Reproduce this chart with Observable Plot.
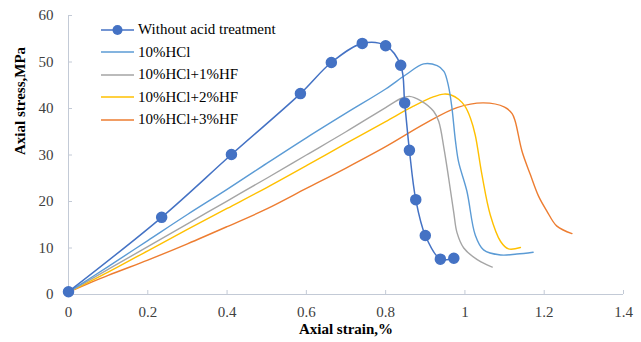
<!DOCTYPE html>
<html>
<head>
<meta charset="utf-8">
<script src="https://cdn.jsdelivr.net/npm/d3@7"></script>
<script src="https://cdn.jsdelivr.net/npm/@observablehq/plot@0.6"></script>
<style>
  html, body { margin: 0; padding: 0; background: #fff; }
  #wrap { position: relative; width: 641px; height: 342px; }
  #wrap svg text { font-family: "Liberation Serif", "Times New Roman", "DejaVu Serif", serif; }
  #legend { position: absolute; left: 101px; top: 18.5px; font-family: "Liberation Serif", "Times New Roman", "DejaVu Serif", serif; font-size: 15px; color: #000; }
  #legend .row { display: flex; align-items: center; height: 22.5px; }
  #legend svg { display: block; margin-right: 4px; }
</style>
</head>
<body>
<div id="wrap"><div id="legend"></div></div>
<script>
// ---- data ----
const seriesNames = ["Without acid treatment", "10%HCl", "10%HCl+1%HF", "10%HCl+2%HF", "10%HCl+3%HF"];
const seriesColors = ["#4472C4", "#5B9BD5", "#A5A5A5", "#FFC000", "#ED7D31"];

const noAcidStrain = [0, 0.235, 0.411, 0.585, 0.663, 0.741, 0.800, 0.838, 0.848, 0.860, 0.876, 0.900, 0.938, 0.972];
const noAcidStress = [0.6, 16.6, 30.1, 43.2, 49.9, 54.0, 53.5, 49.3, 41.2, 31.0, 20.4, 12.7, 7.6, 7.8];

const hclStrain = [0, 0.1, 0.2, 0.3, 0.4, 0.5, 0.6, 0.7, 0.8, 0.85, 0.896, 0.93, 0.947, 0.959, 0.967, 0.976, 0.984, 1.005, 1.026, 1.047, 1.090, 1.131, 1.172];
const hclStress = [0.5, 6.0, 11.6, 17.2, 22.6, 28.2, 33.7, 39.0, 44.2, 47.2, 49.6, 49.2, 48.0, 44.6, 40.3, 33.1, 28.5, 22.2, 12.8, 9.6, 8.5, 8.7, 9.1];

const hf1Strain = [0, 0.1, 0.2, 0.3, 0.4, 0.5, 0.6, 0.7, 0.8, 0.84, 0.86, 0.888, 0.921, 0.934, 0.947, 0.959, 0.972, 0.980, 0.997, 1.031, 1.069];
const hf1Stress = [0.5, 5.4, 10.3, 15.2, 20.1, 25.0, 30.0, 35.0, 40.2, 42.2, 42.6, 41.7, 39.4, 37.2, 31.5, 25.0, 17.5, 13.3, 10.0, 7.5, 5.9];

const hf2Strain = [0, 0.1, 0.2, 0.3, 0.4, 0.5, 0.6, 0.7, 0.8, 0.87, 0.92, 0.947, 0.965, 0.984, 1.000, 1.014, 1.026, 1.043, 1.064, 1.090, 1.110, 1.140];
const hf2Stress = [0.5, 4.8, 9.4, 14.0, 18.5, 23.0, 27.7, 32.5, 37.2, 40.5, 42.5, 43.1, 42.9, 42.0, 40.5, 37.9, 34.3, 25.7, 17.1, 11.4, 9.8, 10.1];

const hf3Strain = [0, 0.1, 0.2, 0.3, 0.4, 0.5, 0.6, 0.7, 0.8, 0.9, 0.98, 1.047, 1.100, 1.119, 1.127, 1.144, 1.165, 1.186, 1.207, 1.232, 1.27];
const hf3Stress = [0.5, 4.1, 7.4, 10.9, 14.6, 18.4, 22.8, 27.2, 31.8, 36.8, 40.2, 41.2, 40.3, 38.9, 37.2, 30.8, 25.8, 21.1, 17.9, 14.7, 13.1];

const xTicks = [0, 0.2, 0.4, 0.6, 0.8, 1, 1.2, 1.4];
const yTicks = [0, 10, 20, 30, 40, 50, 60];
const xLabel = "Axial strain,%";
const yLabel = "Axial stress,MPa";

// ---- build tables ----
const toRows = (xs, ys, s) => xs.map((x, i) => ({x, y: ys[i], s}));
const rows = [
  toRows(noAcidStrain, noAcidStress, seriesNames[0]),
  toRows(hclStrain, hclStress, seriesNames[1]),
  toRows(hf1Strain, hf1Stress, seriesNames[2]),
  toRows(hf2Strain, hf2Stress, seriesNames[3]),
  toRows(hf3Strain, hf3Stress, seriesNames[4])
];

const axisColor = "#C3CAD6";
const serif = "'Liberation Serif', 'Times New Roman', 'DejaVu Serif', serif";
const W = 641, H = 342, mL = 68, mR = 18, mT = 15, mB = 48;

const lineMarks = [4, 3, 2, 1, 0].map(i =>
  Plot.line(rows[i], {x: "x", y: "y", stroke: seriesColors[i], strokeWidth: i === 0 ? 1.5 : 1.4, curve: "catmull-rom"})
);

const chart = Plot.plot({
  width: W, height: H,
  marginLeft: mL, marginRight: mR, marginTop: mT, marginBottom: mB,
  style: {fontFamily: serif, fontSize: "15px", color: "#404040", background: "#fff"},
  x: {domain: [0, 1.4]},
  y: {domain: [0, 60]},
  marks: [
    Plot.ruleY([0], {stroke: axisColor}),
    Plot.ruleX([0], {stroke: axisColor}),
    Plot.tickX(xTicks, {x: d => d, stroke: axisColor, insetTop: (H - mT - mB) - 4}),
    Plot.tickY(yTicks, {y: d => d, stroke: axisColor, insetRight: (W - mL - mR) - 4}),
    Plot.axisX({ticks: xTicks, tickSize: 0, tickPadding: 12, tickFormat: d => String(d), label: null, fontSize: 15}),
    Plot.axisY({ticks: yTicks, tickSize: 0, tickPadding: 15, tickFormat: d => String(d), label: null, fontSize: 15}),
    ...lineMarks,
    Plot.dot(rows[0], {x: "x", y: "y", r: 5, fill: seriesColors[0], stroke: seriesColors[0]}),
    Plot.text([xLabel], {frameAnchor: "bottom", dy: 39, text: d => d, fontWeight: "bold", fontSize: 15, fill: "#000"}),
    Plot.text([yLabel], {frameAnchor: "left", dx: -48, rotate: -90, text: d => d, fontWeight: "bold", fontSize: 15, fill: "#000"})
  ]
});
document.getElementById("wrap").prepend(chart);

// ---- legend ----
const leg = document.getElementById("legend");
seriesNames.forEach((name, i) => {
  const row = document.createElement("div");
  row.className = "row";
  const marker = i === 0 ? `<circle cx="16.5" cy="6" r="5" fill="${seriesColors[i]}"/>` : "";
  row.innerHTML = `<svg width="33" height="12"><line x1="0" y1="6" x2="33" y2="6" stroke="${seriesColors[i]}" stroke-width="${i === 0 ? 1.5 : 1.6}"/>${marker}</svg><span>${name}</span>`;
  leg.appendChild(row);
});
</script>
</body>
</html>
